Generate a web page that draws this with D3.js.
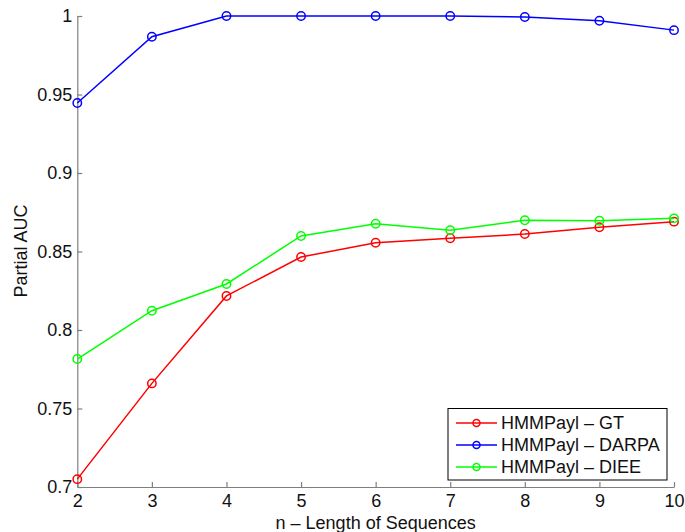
<!DOCTYPE html>
<html><head><meta charset="utf-8">
<script src="https://cdn.jsdelivr.net/npm/d3@7"></script>
<style>body{margin:0;background:#fff}svg text{font-family:"Liberation Sans",Arial,sans-serif}</style>
</head><body><svg id="c" width="685" height="532"></svg>
<script>
const nValues = [2,3,4,5,6,7,8,9,10];
const gtValues = [0.705,0.766,0.8217,0.8465,0.8556,0.8584,0.8611,0.8654,0.8690];
const darpaValues = [0.9446,0.9868,1.0,1.0,1.0,1.0,0.9994,0.997,0.991];
const dieeValues = [0.7815,0.8123,0.8293,0.8599,0.8677,0.8635,0.8699,0.8696,0.8711];
const yTicks = [0.7,0.75,0.8,0.85,0.9,0.95,1];
const xTicks = [2,3,4,5,6,7,8,9,10];
const seriesNames = ["HMMPayl \u2013 GT","HMMPayl \u2013 DARPA","HMMPayl \u2013 DIEE"];
const seriesColors = ["#ff0000","#0000ff","#00ff00"];
const xLabel = "n \u2013 Length of Sequences";
const yLabel = "Partial AUC";

const series = [gtValues, darpaValues, dieeValues].map((v,i)=>({name:seriesNames[i],color:seriesColors[i],values:v}));
const svg = d3.select("#c");
const x = d3.scaleLinear().domain([2,10]).range([77.3,674]);
const y = d3.scaleLinear().domain([0.7,1]).range([487,16]);
const axisColor = "#7f7f7f";

const xa = svg.append("g").attr("transform",`translate(0,${y(0.7)})`)
  .call(d3.axisBottom(x).tickValues(xTicks).tickFormat(d3.format("d")).tickSizeInner(-5).tickSizeOuter(0).tickPadding(7));
const ya = svg.append("g").attr("transform",`translate(${x(2)},0)`)
  .call(d3.axisLeft(y).tickValues(yTicks).tickFormat(d=>String(+d.toFixed(2))).tickSizeInner(-5).tickSizeOuter(0).tickPadding(5));
[xa,ya].forEach(a=>{
  a.selectAll("path,line").attr("stroke",axisColor).attr("stroke-width",1.2);
  a.selectAll("text").attr("fill","#111").style("font-size","18px");
});

const line = d3.line().x((d,i)=>x(nValues[i])).y(d=>y(d));
const order = [1,0,2];
order.forEach(k=>{
  const s = series[k];
  svg.append("path").datum(s.values).attr("d",line).attr("fill","none").attr("stroke",s.color).attr("stroke-width",1.5);
  svg.append("g").selectAll("circle").data(s.values).join("circle")
    .attr("cx",(d,i)=>x(nValues[i])).attr("cy",d=>y(d)).attr("r",4.2)
    .attr("fill","none").attr("stroke",s.color).attr("stroke-width",1.5);
});

svg.append("text").attr("x",(x(2)+x(10))/2).attr("y",528.5).attr("text-anchor","middle")
  .style("font-size","18px").attr("fill","#111").text(xLabel);
svg.append("text").attr("transform","translate(27,251) rotate(-90)").attr("text-anchor","middle")
  .style("font-size","18px").attr("fill","#111").text(yLabel);

const lg = svg.append("g");
lg.append("rect").attr("x",448).attr("y",408.5).attr("width",219).attr("height",71.5)
  .attr("fill","#fff").attr("stroke","#000").attr("stroke-width",1);
series.forEach((s,i)=>{
  const cy = 423 + i*22;
  lg.append("line").attr("x1",456).attr("x2",497).attr("y1",cy).attr("y2",cy).attr("stroke",s.color).attr("stroke-width",1.5);
  lg.append("circle").attr("cx",476.5).attr("cy",cy).attr("r",3.5).attr("fill","none").attr("stroke",s.color).attr("stroke-width",1.5);
  lg.append("text").attr("x",501).attr("y",cy).attr("dy","0.35em").style("font-size","18px").attr("fill","#111").text(s.name);
});
</script></body></html>
